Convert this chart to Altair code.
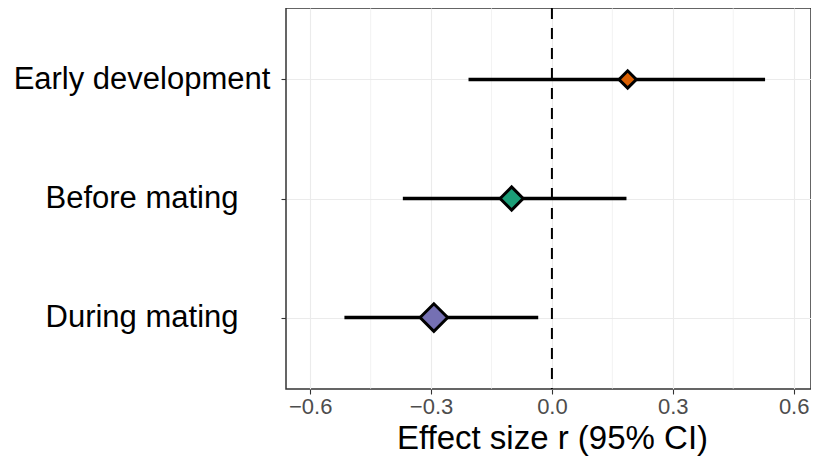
import altair as alt
import pandas as pd

# ---- data ----
groups = ["Early development", "Before mating", "During mating"]
estimates = [0.188, -0.100, -0.293]
ci_lower = [-0.207, -0.370, -0.515]
ci_upper = [0.529, 0.185, -0.034]
x_ticks = [-0.6, -0.3, 0.0, 0.3, 0.6]
x_minor = [-0.45, -0.15, 0.15, 0.45]
palette = ["#D95F02", "#1B9E77", "#7570B3"]
marker_sizes = [300, 760, 800]

df = pd.DataFrame({"group": groups, "est": estimates, "lo": ci_lower, "hi": ci_upper})
minor_df = pd.DataFrame({"v": x_minor})
zero_df = pd.DataFrame({"v": [0.0]})

FONT = "Liberation Sans"
xscale = alt.Scale(domain=[-0.66, 0.643], nice=False, zero=False)
yscale = alt.Scale(domain=groups, type="point", padding=0.6)

xaxis = alt.Axis(
    values=x_ticks, format=".1f", title="Effect size r (95% CI)",
    grid=True, gridColor="#EBEBEB", gridWidth=1.1,
    domain=False, ticks=True, tickColor="#333333", tickSize=5, tickWidth=1.1,
    labelColor="#4D4D4D", labelFont=FONT, labelFontSize=22, labelPadding=2,
    titleFont=FONT, titleFontSize=33, titleFontWeight="normal", titleColor="black",
    titlePadding=5, titleX=266, titleAlign="center",
)
yaxis = alt.Axis(
    title=None, grid=True, gridColor="#EBEBEB", gridWidth=1.1,
    domain=False, ticks=True, tickColor="#333333", tickSize=5, tickWidth=1.1,
    labelColor="black", labelFont=FONT, labelFontSize=31, labelAlign="center",
    labelPadding=139.5, labelBaseline="middle", labelLimit=500,
)

minor = alt.Chart(minor_df).mark_rule(color="#EBEBEB", strokeWidth=0.6).encode(
    x=alt.X("v:Q", scale=xscale, axis=xaxis)
)

zero = alt.Chart(zero_df).mark_rule(color="black", strokeWidth=2, strokeDash=[11, 9]).encode(
    x=alt.X("v:Q", scale=xscale, axis=xaxis)
)

ci = alt.Chart(df).mark_rule(color="black", strokeWidth=3.5).encode(
    x=alt.X("lo:Q", scale=xscale, axis=xaxis),
    x2="hi:Q",
    y=alt.Y("group:N", scale=yscale, axis=yaxis),
)

pts = alt.Chart(df).mark_point(shape="diamond", filled=True, stroke="black",
                               strokeWidth=3, opacity=1).encode(
    x=alt.X("est:Q", scale=xscale, axis=xaxis),
    y=alt.Y("group:N", scale=yscale, axis=yaxis),
    fill=alt.Fill("group:N", scale=alt.Scale(domain=groups, range=palette), legend=None),
    size=alt.Size("group:N", scale=alt.Scale(domain=groups, range=marker_sizes), legend=None),
)

chart = alt.layer(minor, zero, ci, pts).properties(
    width=525, height=381,
    background="white",
    autosize=alt.AutoSizeParams(type="none"),
    padding={"left": 278, "top": 0, "right": 0, "bottom": 71},
).configure_view(stroke="#333333", strokeWidth=1.5)

chart.save("out.html", embed_options={"renderer": "svg", "actions": False})
